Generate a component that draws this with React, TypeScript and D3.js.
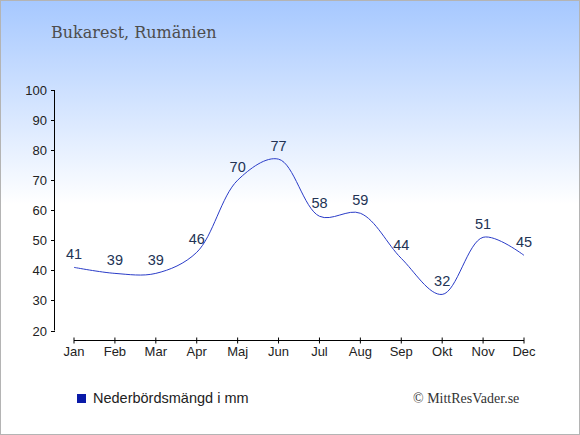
import React from "react";
import * as d3 from "d3";

const months = ["Jan", "Feb", "Mar", "Apr", "Maj", "Jun", "Jul", "Aug", "Sep", "Okt", "Nov", "Dec"];
const precipitation = [41, 39, 39, 46, 70, 77, 58, 59, 44, 32, 51, 45];
const yTicks = [20, 30, 40, 50, 60, 70, 80, 90, 100];
const title = "Bukarest, Rumänien";
const legendLabel = "Nederbördsmängd i mm";
const credit = "© MittResVader.se";

const W = 580;
const H = 435;

export default function App() {
  const x = d3.scalePoint<string>().domain(months).range([74, 524]);
  const y = d3.scaleLinear().domain([20, 100]).range([330.5, 90]);
  const line = d3
    .line<number>()
    .x((_, i) => x(months[i]) as number)
    .y((d) => y(d))
    .curve(d3.curveCatmullRom.alpha(0.5));
  const path = line(precipitation) || "";
  const sans = "'Liberation Sans', Arial, sans-serif";
  const serif = "'DejaVu Serif', 'Liberation Serif', serif";
  const axisY = 340.5;
  const yAxisX = 54.5;

  return (
    <div style={{ position: "fixed", left: 0, top: 0 }}>
      <svg width={W} height={H} style={{ display: "block" }}>
        <defs>
          <linearGradient id="bg" x1="0" y1="0" x2="0" y2="1">
            <stop offset="0" stopColor="#a6c8ff" />
            <stop offset="0.47" stopColor="#ffffff" />
            <stop offset="1" stopColor="#ffffff" />
          </linearGradient>
        </defs>
        <rect x={0.5} y={0.5} width={W - 1} height={H - 1} fill="url(#bg)" stroke="#b4b4b4" />
        <text x={51} y={38} fontFamily={serif} fontSize={16} fill="#4d4d4d">
          {title}
        </text>
        {/* y axis */}
        <line x1={yAxisX} x2={yAxisX} y1={y(100)} y2={y(20)} stroke="#000" />
        {yTicks.map((t) => (
          <g key={t}>
            <line x1={51} x2={yAxisX + 0.5} y1={Math.round(y(t)) + 0.5} y2={Math.round(y(t)) + 0.5} stroke="#000" />
            <text x={47} y={y(t) + 5} textAnchor="end" fontFamily={sans} fontSize={13} fill="#222">
              {t}
            </text>
          </g>
        ))}
        {/* x axis */}
        <line x1={x("Jan")} x2={x("Dec")} y1={axisY} y2={axisY} stroke="#000" />
        {months.map((m) => (
          <g key={m}>
            <line x1={x(m)} x2={x(m)} y1={axisY - 3} y2={axisY + 3} stroke="#000" />
            <text x={x(m)} y={356} textAnchor="middle" fontFamily={sans} fontSize={13} fill="#222">
              {m}
            </text>
          </g>
        ))}
        <path d={path} fill="none" stroke="#2a3cc8" strokeWidth={1} />
        {precipitation.map((v, i) => (
          <text
            key={i}
            x={x(months[i])}
            y={y(v) - 8}
            textAnchor="middle"
            fontFamily={sans}
            fontSize={14.5}
            fill="#223355"
          >
            {v}
          </text>
        ))}
        <rect x={77} y={394} width={9} height={9} fill="#0a1aa8" />
        <text x={93} y={403} fontFamily={sans} fontSize={14.5} fill="#222">
          {legendLabel}
        </text>
        <text x={413} y={403} fontFamily="'Liberation Serif', serif" fontSize={14} fill="#333">
          {credit}
        </text>
      </svg>
    </div>
  );
}
